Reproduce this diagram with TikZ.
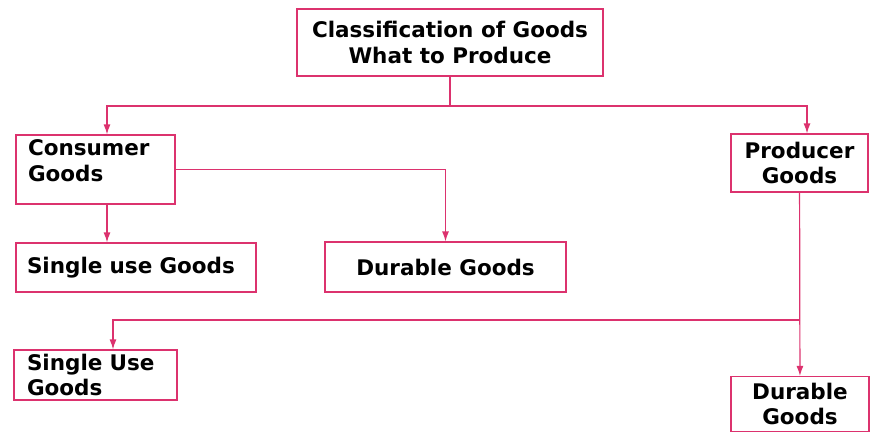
\documentclass[tikz,border=0pt]{standalone}
\usepackage{fontspec}
\setmainfont{DejaVu Sans}
\usetikzlibrary{arrows.meta}
\definecolor{goodspink}{RGB}{220,50,110}
\begin{document}
\begin{tikzpicture}[x=1pt,y=-1pt,
  goods/.style={draw=goodspink,line width=1.2pt,inner sep=0pt,
    font=\fontsize{21.5}{25.5}\selectfont\bfseries},
  link/.style={draw=goodspink,line width=1.2pt},
  arrowed/.style={link,-{Latex[length=10pt,width=7pt]}}]
\useasboundingbox (0,0) rectangle (874,432);
% Boxes
\node[goods,align=center,minimum width=306pt,minimum height=67pt] (classif) at (450,42.5) {Classification of Goods\\What to Produce};
\node[goods,align=left,inner xsep=12pt,text width=135pt,minimum height=69pt] (consumer) at (95.5,169.5) {Consumer\\Goods\\[-8pt]\mbox{}};
\node[goods,align=center,minimum width=137pt,minimum height=58pt] (producer) at (799.5,163) {Producer\\Goods};
\node[goods,align=left,inner xsep=11pt,text width=218pt,minimum height=49pt] (singleA) at (136,267.5) {Single use Goods};
\node[goods,align=center,minimum width=241pt,minimum height=50pt] (durableA) at (445.5,267) {Durable Goods};
\node[goods,align=left,inner xsep=13pt,text width=137pt,minimum height=50pt] (singleB) at (95.5,375) {Single Use\\Goods};
\node[goods,align=center,minimum width=138pt,minimum height=55pt] (durableB) at (800,404) {Durable\\Goods};
% Connectors
\coordinate (split) at (450,106);
\coordinate (splitB) at (800,320);
\draw[link] (classif) -- (split);
\draw[arrowed] (split) -| ([xshift=11.5pt]consumer.north);
\draw[arrowed] (split) -| ([xshift=7.5pt]producer.north);
\draw[arrowed] ([xshift=11.5pt]consumer.south) -- ([xshift=11.5pt]consumer.south |- singleA.north);
\draw[arrowed] (consumer.east) -| (durableA.north);
\draw[arrowed] (producer) -- (durableB);
\draw[arrowed] (splitB) -| ([xshift=17.5pt]singleB.north);
\end{tikzpicture}
\end{document}
